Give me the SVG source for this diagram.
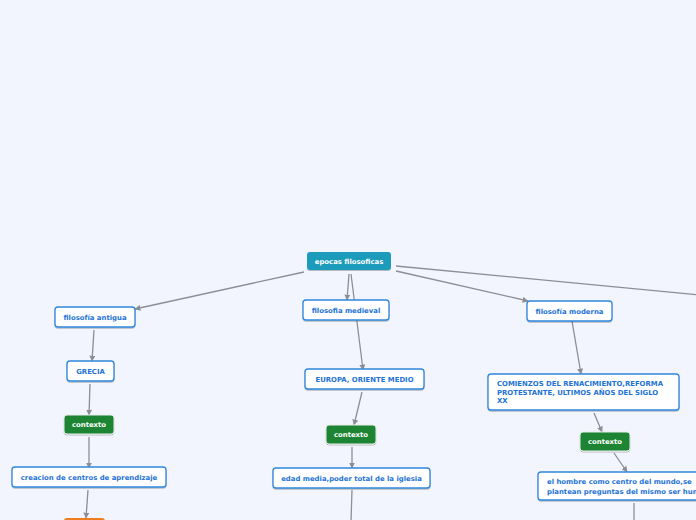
<svg xmlns="http://www.w3.org/2000/svg" width="696" height="520" viewBox="0 0 696 520">
<style>
.w rect{fill:#fff;stroke:#2f86dc;stroke-width:1.3}
.w text{fill:#1d72d6}
.g rect{fill:#1b8433;stroke:#e8ece8;stroke-width:1}
.g text,.r text{fill:#fff}
.r rect{fill:#1a9bbb}
.o rect{fill:#ef7d1e}
text{font-family:"DejaVu Sans","Liberation Sans",sans-serif;font-weight:bold;font-size:6.9px}
.c line{stroke:#8b8e95;stroke-width:1.3}
</style>
<defs>
<marker id="a" viewBox="0 0 10 10" refX="9" refY="5" markerWidth="6" markerHeight="6" markerUnits="userSpaceOnUse" orient="auto"><path d="M0,0L10,5L0,10z" fill="#8b8e95"/></marker>
<filter id="s" x="-10%" y="-20%" width="120%" height="150%"><feDropShadow dx="0" dy="1" stdDeviation="0.6" flood-color="#000" flood-opacity="0.25"/></filter>
</defs>
<rect width="696" height="520" fill="#f2f5fe"/>
<g class="c">
<line x1="304" y1="272" x2="135" y2="309" marker-end="url(#a)"/>
<line x1="349" y1="274" x2="347" y2="300" marker-end="url(#a)"/>
<line x1="351" y1="274" x2="363" y2="370" marker-end="url(#a)"/>
<line x1="396" y1="271" x2="528" y2="301" marker-end="url(#a)"/>
<line x1="396" y1="266" x2="700" y2="295"/>
<line x1="94" y1="330" x2="92" y2="361" marker-end="url(#a)"/>
<line x1="90" y1="384" x2="89" y2="415" marker-end="url(#a)"/>
<line x1="89" y1="437" x2="89" y2="468" marker-end="url(#a)"/>
<line x1="88" y1="490" x2="86" y2="518" marker-end="url(#a)"/>
<line x1="362" y1="392" x2="354" y2="425" marker-end="url(#a)"/>
<line x1="352" y1="447" x2="352" y2="468" marker-end="url(#a)"/>
<line x1="352" y1="490" x2="351" y2="522"/>
<line x1="572" y1="321" x2="581" y2="374" marker-end="url(#a)"/>
<line x1="594" y1="413" x2="602" y2="432" marker-end="url(#a)"/>
<line x1="614" y1="453" x2="627" y2="472" marker-end="url(#a)"/>
<line x1="634" y1="503" x2="634" y2="522"/>
</g>
<g id="root" class="r"><rect x="307" y="252" width="84" height="18" rx="3" filter="url(#s)"/><text x="349" y="263.5" text-anchor="middle">epocas filosoficas</text></g>
<g id="antigua" class="w"><rect x="55" y="307" width="80" height="20" rx="3" filter="url(#s)"/><text x="95" y="319.5" text-anchor="middle">filosofía antigua</text></g>
<g id="grecia" class="w"><rect x="67" y="361" width="47" height="20" rx="3" filter="url(#s)"/><text x="90.5" y="373.5" text-anchor="middle">GRECIA</text></g>
<g id="ctx1" class="g"><rect x="64" y="415" width="50" height="19" rx="3" filter="url(#s)"/><text x="89" y="427" text-anchor="middle">contexto</text></g>
<g id="creacion" class="w"><rect x="12" y="467" width="154" height="20" rx="3" filter="url(#s)"/><text x="89" y="479.5" text-anchor="middle">creacion de centros de aprendizaje</text></g>
<g id="orange" class="o"><rect x="64" y="518" width="41" height="14" rx="3"/></g>
<g id="medieval" class="w"><rect x="303" y="300" width="86" height="20" rx="3" filter="url(#s)"/><text x="346" y="312.5" text-anchor="middle">filosofia medieval</text></g>
<g id="europa" class="w"><rect x="305" y="369" width="119" height="20" rx="3" filter="url(#s)"/><text x="364.5" y="381.5" text-anchor="middle">EUROPA, ORIENTE MEDIO</text></g>
<g id="ctx2" class="g"><rect x="326" y="425" width="50" height="19" rx="3" filter="url(#s)"/><text x="351" y="437" text-anchor="middle">contexto</text></g>
<g id="edad" class="w"><rect x="273" y="468" width="157" height="20" rx="3" filter="url(#s)"/><text x="351.5" y="480.5" text-anchor="middle">edad media,poder total de la iglesia</text></g>
<g id="moderna" class="w"><rect x="527" y="301" width="85" height="20" rx="3" filter="url(#s)"/><text x="569.5" y="313.5" text-anchor="middle">filosofía moderna</text></g>
<g id="comienzos" class="w"><rect x="488" y="374" width="191" height="36" rx="3" filter="url(#s)"/><text x="497" y="386">COMIENZOS DEL RENACIMIENTO,REFORMA</text><text x="497" y="394.5">PROTESTANTE, ULTIMOS AÑOS DEL SIGLO</text><text x="497" y="403">XX</text></g>
<g id="ctx3" class="g"><rect x="580" y="432" width="50" height="19" rx="3" filter="url(#s)"/><text x="605" y="444" text-anchor="middle">contexto</text></g>
<g id="hombre" class="w"><rect x="538" y="472" width="170" height="28" rx="3" filter="url(#s)"/><text x="547" y="484">el hombre como centro del mundo,se</text><text x="547" y="493.5">plantean preguntas del mismo ser humano</text></g>
</svg>
